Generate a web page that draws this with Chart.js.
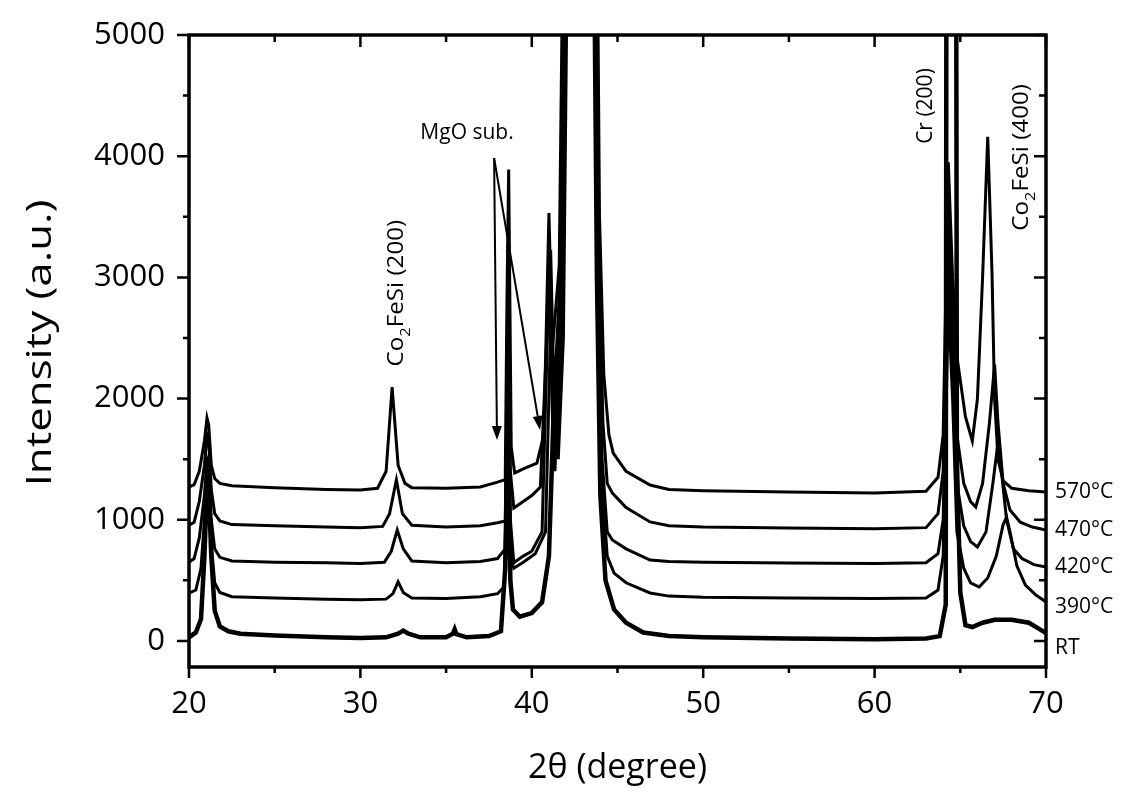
<!DOCTYPE html>
<html>
<head>
<meta charset="utf-8">
<script src="https://cdn.jsdelivr.net/npm/chart.js@4.4.1/dist/chart.umd.min.js"></script>
<style>
  html, body { margin: 0; padding: 0; background: #fff; }
  #wrap { width: 1122px; height: 794px; position: relative; }
</style>
</head>
<body>
<div id="wrap"><canvas id="xrd"></canvas></div>
<script>
// [2theta, intensity], curves already stacked as drawn
const curve570 = [[20,1270],[20.3,1290],[20.6,1400],[20.9,1650],[21.05,1840],[21.15,1780],[21.3,1450],[21.5,1340],[21.8,1300],[22.5,1280],[25,1265],[28,1250],[30,1245],[31.0,1260],[31.5,1400],[31.85,2095],[32.2,1450],[32.6,1300],[33,1265],[35,1260],[37,1270],[38,1310],[38.45,1330],[38.55,2800],[38.65,3890],[38.8,1600],[39.0,1386],[39.5,1420],[40.3,1468],[40.7,1700],[41.0,3530],[41.2,2400],[41.6,3100],[42.0,8000],[42.9,60000],[43.7,8000],[43.95,3500],[44.2,2200],[44.5,1700],[44.75,1550],[45.5,1400],[46.9,1287],[48,1250],[50,1240],[55,1230],[60,1220],[63,1235],[63.7,1350],[64.0,1700],[64.3,3950],[64.55,3000],[64.85,2300],[65.3,1850],[65.7,1650],[66.0,2000],[66.3,3000],[66.6,4160],[66.85,3036],[67.0,2000],[67.2,1500],[67.5,1320],[68,1260],[69,1240],[70,1230]];
const curve470 = [[20,955],[20.3,980],[20.6,1150],[20.9,1450],[21.05,1700],[21.15,1650],[21.3,1250],[21.5,1050],[21.8,990],[22.5,960],[25,950],[28,940],[30,935],[31.3,945],[31.7,1050],[32.1,1330],[32.45,1050],[33,955],[35,940],[37,950],[38,975],[38.45,990],[38.55,2000],[38.62,3300],[38.75,1400],[38.95,1097],[39.5,1150],[40,1200],[40.5,1270],[41.1,3225],[41.3,2000],[41.65,3000],[42.05,8000],[42.9,60000],[43.65,8000],[43.9,3300],[44.15,1800],[44.4,1300],[44.7,1220],[45.5,1100],[46.9,982],[48,950],[50,940],[55,932],[60,925],[63,935],[63.7,1050],[64.0,1400],[64.3,3600],[64.55,2700],[64.8,1700],[65.2,1300],[65.6,1150],[65.9,1105],[66.3,1300],[66.7,1800],[67.0,2280],[67.2,1800],[67.5,1300],[67.9,1080],[68.5,980],[69.2,940],[70,916]];
const curve420 = [[20,650],[20.3,680],[20.6,850],[20.9,1200],[21.05,1500],[21.15,1450],[21.3,1000],[21.5,760],[21.8,690],[22.5,660],[25,650],[28,645],[30,640],[31.4,650],[31.8,740],[32.15,915],[32.5,760],[33,660],[35,645],[37,655],[38,680],[38.45,760],[38.55,1800],[38.62,2700],[38.75,1000],[38.95,645],[39.5,700],[40,740],[40.6,900],[41.0,3000],[41.25,1600],[41.65,2800],[42.05,8000],[42.9,60000],[43.6,8000],[43.85,3200],[44.1,1500],[44.4,900],[44.7,833],[45.5,760],[46.9,668],[48,655],[50,650],[55,644],[60,640],[63,645],[63.7,720],[64.0,1000],[64.3,3200],[64.55,2300],[64.8,1300],[65.2,950],[65.6,820],[66.0,776],[66.5,900],[66.9,1300],[67.2,1640],[67.4,1400],[67.7,1000],[68.1,760],[68.6,680],[69.3,630],[70,610]];
const curve390 = [[20,395],[20.4,420],[20.7,600],[20.9,1000],[21.05,1350],[21.15,1300],[21.3,800],[21.5,480],[21.8,400],[22.5,365],[25,355],[28,345],[30,340],[31.5,345],[31.9,390],[32.2,487],[32.5,400],[33,355],[35,350],[37,365],[38,390],[38.4,450],[38.55,1500],[38.62,2200],[38.75,700],[38.95,600],[39.5,650],[40.2,720],[40.8,900],[41.1,2600],[41.35,1400],[41.7,2600],[42.1,8000],[42.9,60000],[43.6,8000],[43.85,3000],[44.1,1300],[44.4,700],[44.8,560],[45.5,480],[46.9,396],[48,370],[50,360],[55,355],[60,350],[63,355],[63.7,420],[64.0,700],[64.3,2800],[64.55,2000],[64.8,900],[65.2,600],[65.6,480],[66.1,445],[66.6,520],[67.1,700],[67.5,960],[67.7,1020],[67.9,900],[68.3,620],[68.8,460],[69.4,380],[70,322]];
const curveRT = [[20,30],[20.4,70],[20.7,180],[20.9,700],[21.05,1300],[21.15,1250],[21.3,700],[21.5,250],[21.8,120],[22.3,80],[23,60],[25,45],[28,30],[30,25],[31.5,30],[32.2,60],[32.5,85],[32.8,60],[33.5,30],[35,30],[35.4,60],[35.5,95],[35.6,55],[36.2,30],[37.5,40],[38.2,80],[38.45,600],[38.6,1800],[38.75,500],[38.9,260],[39.3,200],[40,230],[40.6,320],[41.0,700],[41.3,2000],[41.5,1500],[41.8,2500],[42.2,8000],[42.9,60000],[43.5,8000],[43.8,3000],[44.0,1200],[44.3,500],[44.8,260],[45.5,150],[46.5,70],[48,40],[50,30],[55,20],[60,15],[63,20],[63.8,40],[64.15,300],[64.45,40000],[64.8,1500],[65.0,400],[65.3,130],[65.7,115],[66.3,150],[67,175],[68,175],[69,150],[69.6,100],[70,65]];

const seriesNames = ['570°C', '470°C', '420°C', '390°C', 'RT'];
const seriesData = [curve570, curve470, curve420, curve390, curveRT];
const xTicks = [20, 30, 40, 50, 60, 70];
const yTicks = [0, 1000, 2000, 3000, 4000, 5000];

const FONT = '"Open Sans", "DejaVu Sans", sans-serif';

// little helpers for the drawn extras
function drawTickSet(ctx, list) {
  ctx.beginPath();
  list.forEach(([x1, y1, x2, y2]) => { ctx.moveTo(x1, y1); ctx.lineTo(x2, y2); });
  ctx.stroke();
}
function mids(arr) {
  const out = [];
  for (let i = 0; i < arr.length - 1; i++) out.push((arr[i] + arr[i + 1]) / 2);
  return out;
}
function rotatedLabel(ctx, cx, cy, parts, size, stretch) {
  ctx.save();
  ctx.translate(cx, cy);
  ctx.rotate(-Math.PI / 2);
  ctx.scale(stretch || 1, 1);
  let w = 0;
  parts.forEach(p => {
    ctx.font = (p.sub ? size * 0.68 : size) + 'px ' + FONT;
    w += ctx.measureText(p.t).width;
  });
  let pos = -w / 2;
  ctx.textBaseline = 'middle';
  ctx.textAlign = 'left';
  parts.forEach(p => {
    ctx.font = (p.sub ? size * 0.68 : size) + 'px ' + FONT;
    ctx.fillText(p.t, pos, p.sub ? size * 0.38 : 0);
    pos += ctx.measureText(p.t).width;
  });
  ctx.restore();
}
function arrow(ctx, x1, y1, x2, y2) {
  const ang = Math.atan2(y2 - y1, x2 - x1);
  const L = 14, W = 5;
  ctx.beginPath();
  ctx.moveTo(x1, y1);
  ctx.lineTo(x2 - L * Math.cos(ang), y2 - L * Math.sin(ang));
  ctx.stroke();
  ctx.beginPath();
  ctx.moveTo(x2, y2);
  ctx.lineTo(x2 - L * Math.cos(ang) + W * Math.sin(ang), y2 - L * Math.sin(ang) - W * Math.cos(ang));
  ctx.lineTo(x2 - L * Math.cos(ang) - W * Math.sin(ang), y2 - L * Math.sin(ang) + W * Math.cos(ang));
  ctx.closePath();
  ctx.fill();
}

const extras = {
  id: 'extras',
  afterDatasetsDraw(chart) {
    const { ctx, chartArea: a, scales: { x, y } } = chart;
    ctx.save();
    ctx.strokeStyle = '#000';
    ctx.fillStyle = '#000';

    // frame
    ctx.lineWidth = 3.5;
    ctx.strokeRect(a.left, a.top, a.right - a.left, a.bottom - a.top);

    // ticks: out on left/bottom, in on top/right
    ctx.lineWidth = 2.5;
    const t = [];
    xTicks.forEach(v => {
      const p = x.getPixelForValue(v);
      t.push([p, a.bottom, p, a.bottom + 11], [p, a.top, p, a.top + 12]);
    });
    mids(xTicks).forEach(v => {
      const p = x.getPixelForValue(v);
      t.push([p, a.bottom, p, a.bottom + 6], [p, a.top, p, a.top + 7]);
    });
    yTicks.forEach(v => {
      const p = y.getPixelForValue(v);
      t.push([a.left, p, a.left - 12, p], [a.right, p, a.right - 12, p]);
    });
    mids(yTicks).forEach(v => {
      const p = y.getPixelForValue(v);
      t.push([a.left, p, a.left - 6, p], [a.right, p, a.right - 7, p]);
    });
    drawTickSet(ctx, t);

    // y axis title, a bit taller than wide like the original
    rotatedLabel(ctx, 41, (a.top + a.bottom) / 2 - 8, [{ t: 'Intensity (a.u.)' }], 35, 1.25);

    // peak labels
    rotatedLabel(ctx, x.getPixelForValue(32.14), y.getPixelForValue(2870),
      [{ t: 'Co' }, { t: '2', sub: true }, { t: 'FeSi (200)' }], 22, 1.1);
    rotatedLabel(ctx, x.getPixelForValue(63.0), y.getPixelForValue(4414),
      [{ t: 'Cr (200)' }], 21, 1.0);
    rotatedLabel(ctx, x.getPixelForValue(68.6), y.getPixelForValue(3990),
      [{ t: 'Co' }, { t: '2', sub: true }, { t: 'FeSi (400)' }], 22, 1.1);

    ctx.font = '21px ' + FONT;
    ctx.textAlign = 'center';
    ctx.textBaseline = 'middle';
    ctx.fillText('MgO sub.', x.getPixelForValue(36.22), y.getPixelForValue(4190));

    // MgO arrows
    ctx.lineWidth = 2;
    const sx = x.getPixelForValue(37.8), sy = y.getPixelForValue(3985);
    arrow(ctx, sx, sy, x.getPixelForValue(37.97), y.getPixelForValue(1658));
    arrow(ctx, sx, sy, x.getPixelForValue(40.48), y.getPixelForValue(1741));

    // curve names at the right edge
    const nudge = [0, 0, 0, 5, 15];
    ctx.font = '21px ' + FONT;
    ctx.textAlign = 'left';
    seriesData.forEach((d, i) => {
      const last = d[d.length - 1][1];
      ctx.fillText(seriesNames[i], a.right + 9, y.getPixelForValue(last) + nudge[i]);
    });
    ctx.restore();
  }
};

new Chart(document.getElementById('xrd'), {
  type: 'line',
  data: {
    datasets: seriesData.map((d, i) => ({
      label: seriesNames[i],
      data: d.map(p => ({ x: p[0], y: p[1] })),
      borderColor: '#000',
      borderWidth: i === 4 ? 4.5 : 3,
      pointRadius: 0,
      tension: 0,
      fill: false,
      clip: 0
    }))
  },
  options: {
    responsive: true,
    maintainAspectRatio: false,
    animation: false,
    layout: { padding: { top: 35, right: 76, left: 0, bottom: 0 } },
    plugins: { legend: { display: false }, tooltip: { enabled: false } },
    scales: {
      x: {
        type: 'linear',
        min: 20,
        max: 70,
        afterFit: s => { s.height = 127; s.paddingLeft = 0; s.paddingRight = 0; },
        afterBuildTicks: s => { s.ticks = xTicks.map(v => ({ value: v })); },
        grid: { display: false, drawTicks: false },
        border: { display: false },
        ticks: { color: '#000', padding: 19, font: { family: FONT, size: 31 }, callback: v => String(v) },
        title: { display: true, text: '2θ (degree)', color: '#000', padding: { bottom: 5 }, font: { family: FONT, size: 34 } }
      },
      y: {
        type: 'linear',
        min: -215,
        max: 5000,
        afterFit: s => { s.width = 189; s.paddingTop = 0; s.paddingBottom = 0; },
        afterBuildTicks: s => { s.ticks = yTicks.map(v => ({ value: v })); },
        grid: { display: false, drawTicks: false },
        border: { display: false },
        ticks: { color: '#000', padding: 24, font: { family: FONT, size: 31 }, callback: v => String(v) }
      }
    }
  },
  plugins: [extras]
});
</script>
</body>
</html>
